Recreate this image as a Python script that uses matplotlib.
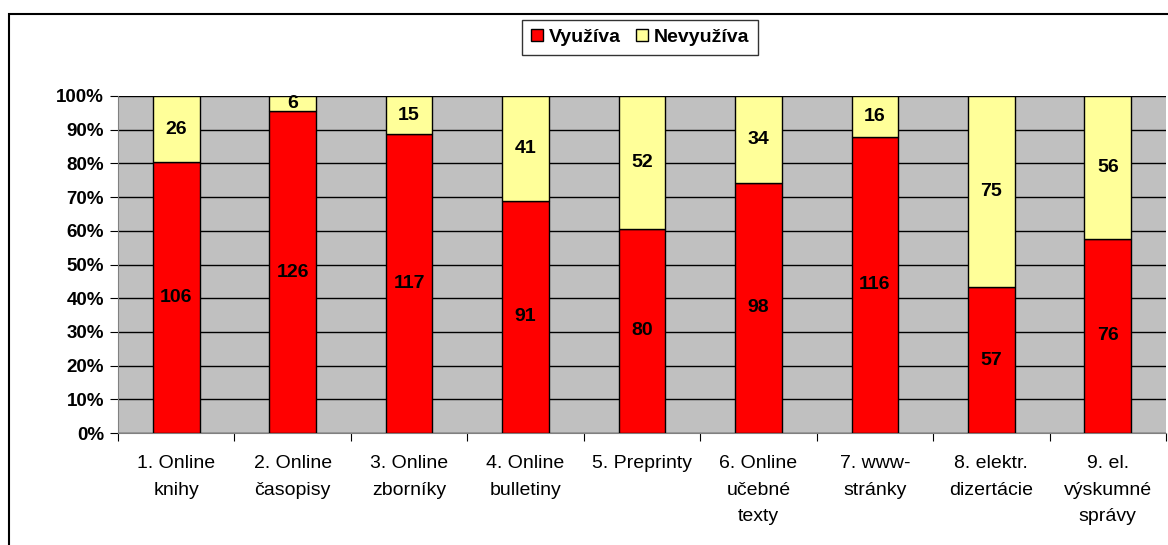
import numpy as np
import matplotlib.pyplot as plt
from matplotlib.patches import Rectangle

plt.rcParams['font.family'] = ['Liberation Sans', 'DejaVu Sans']

categories = ['1. Online\nknihy', '2. Online\nčasopisy', '3. Online\nzborníky',
              '4. Online\nbulletiny', '5. Preprinty', '6. Online\nučebné\ntexty',
              '7. www-\nstránky', '8. elektr.\ndizertácie', '9. el.\nvýskumné\nsprávy']
vyuziva = [106, 126, 117, 91, 80, 98, 116, 57, 76]
nevyuziva = [26, 6, 15, 41, 52, 34, 16, 75, 56]

W, H = 1168, 545
fig = plt.figure(figsize=(W / 100, H / 100), dpi=100)
ax = fig.add_axes([118 / W, 1 - 433 / H, (1166 - 118) / W, (433 - 96) / H])

v = np.array(vyuziva, float)
n = np.array(nevyuziva, float)
tot = v + n
pv = v / tot * 100
pn = n / tot * 100
x = np.arange(len(categories))

ax.set_facecolor('#c0c0c0')
ax.bar(x, pv, 0.4, color='#ff0000', edgecolor='black', linewidth=1, label='Využíva', zorder=3)
ax.bar(x, pn, 0.4, bottom=pv, color='#ffff99', edgecolor='black', linewidth=1, label='Nevyužíva', zorder=3)

for i in range(len(x)):
    ax.text(x[i], pv[i] / 2, str(vyuziva[i]), ha='center', va='center',
            fontsize=14, fontweight='bold', zorder=4)
    ax.text(x[i], pv[i] + pn[i] / 2, str(nevyuziva[i]), ha='center', va='center',
            fontsize=14, fontweight='bold', zorder=4)

ax.set_xlim(-0.5, len(x) - 0.5)
ax.set_ylim(0, 100)
ax.set_yticks(np.arange(0, 101, 10))
ax.set_yticklabels([f'{t}%' for t in range(0, 101, 10)], fontsize=13.5, fontweight='bold')
ax.yaxis.grid(True, color='black', linewidth=1, zorder=1)
ax.set_axisbelow(True)

ax.set_xticks(np.arange(-0.5, len(x), 1))
ax.set_xticklabels([])
ax.set_xticks(x, minor=True)
ax.set_xticklabels(categories, minor=True, fontsize=14, linespacing=1.72)
ax.tick_params(axis='x', which='minor', length=0, pad=16)
ax.tick_params(axis='x', which='major', length=6, direction='out', color='black')
ax.tick_params(axis='y', length=6, direction='out', pad=4)

for s in ['top', 'right']:
    ax.spines[s].set_visible(False)
ax.spines['left'].set_color('#808080')
ax.spines['bottom'].set_color('#808080')

leg = ax.legend(loc='center', bbox_to_anchor=(640 / W, 1 - 37.5 / H), bbox_transform=fig.transFigure,
                ncol=2, frameon=True, fancybox=False, edgecolor='black',
                prop={'weight': 'bold', 'size': 14}, handlelength=0.6, handleheight=0.6,
                handletextpad=0.3, columnspacing=0.8, borderpad=0.45)
leg.get_frame().set_linewidth(1)

fig.patches.append(Rectangle((9 / W, -0.1), 1.2, 1 - 14 / H + 0.1, transform=fig.transFigure,
                             fill=False, edgecolor='black', linewidth=1.5))

fig.savefig('out.png', dpi=100)
